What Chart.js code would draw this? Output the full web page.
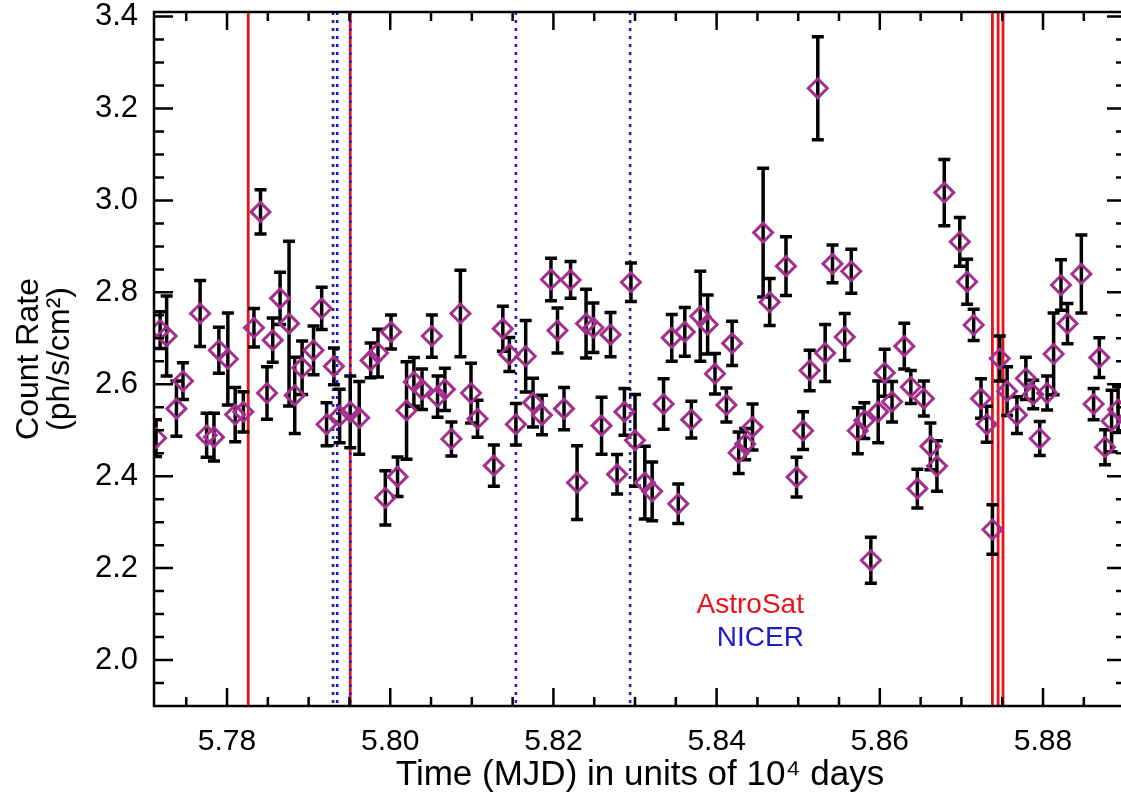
<!DOCTYPE html>
<html>
<head>
<meta charset="utf-8">
<script src="https://cdn.jsdelivr.net/npm/chart.js@4"></script>
<style>
  html, body { margin: 0; background: #fff; overflow: hidden; }
  canvas { display: block; }
</style>
</head>
<body>
<canvas id="myChart" width="1126" height="798"></canvas>
<script>
// time in units of 10^4 days (MJD)
const mjd = [
  5.7713, 5.7718, 5.7726, 5.7738, 5.7746, 5.7767, 5.7775, 5.7784, 5.7790, 5.7801,
  5.7810, 5.7820, 5.7833, 5.7841, 5.7849, 5.7856, 5.7865, 5.7876, 5.7883, 5.7892,
  5.7906, 5.7916, 5.7922, 5.7931, 5.7938, 5.7951, 5.7962, 5.7976, 5.7985, 5.7994,
  5.8001, 5.8009, 5.8020, 5.8029, 5.8039, 5.8051, 5.8058, 5.8067, 5.8075, 5.8086,
  5.8099, 5.8107, 5.8127, 5.8138, 5.8146, 5.8154, 5.8166, 5.8175, 5.8186, 5.8197,
  5.8205, 5.8213, 5.8221, 5.8229, 5.8240, 5.8249, 5.8259, 5.8270, 5.8278, 5.8287,
  5.8295, 5.8300, 5.8312, 5.8321, 5.8335, 5.8345, 5.8353, 5.8361, 5.8369, 5.8380,
  5.8389, 5.8398, 5.8412, 5.8419, 5.8427, 5.8435, 5.8444, 5.8457, 5.8465, 5.8485,
  5.8498, 5.8506, 5.8514, 5.8524, 5.8533, 5.8542, 5.8557, 5.8565, 5.8573, 5.8581,
  5.8589, 5.8598, 5.8606, 5.8615, 5.8630, 5.8638, 5.8646, 5.8654, 5.8662, 5.8670,
  5.8679, 5.8698, 5.8707, 5.8715, 5.8724, 5.8731, 5.8738, 5.8747, 5.8756, 5.8768,
  5.8779, 5.8788, 5.8796, 5.8805, 5.8813, 5.8822, 5.8830, 5.8847, 5.8862, 5.8869,
  5.8876, 5.8884, 5.8892
];
// count rate (ph/s/cm^2)
const rate = [
  2.483, 2.718, 2.705, 2.547, 2.607, 2.754, 2.489, 2.485, 2.674, 2.655,
  2.534, 2.540, 2.723, 2.975, 2.581, 2.696, 2.787, 2.732, 2.576, 2.636,
  2.674, 2.765, 2.513, 2.639, 2.531, 2.540, 2.527, 2.652, 2.668, 2.353,
  2.714, 2.399, 2.543, 2.605, 2.589, 2.705, 2.573, 2.589, 2.481, 2.754,
  2.581, 2.525, 2.423, 2.721, 2.665, 2.513, 2.661, 2.560, 2.533, 2.828,
  2.717, 2.547, 2.827, 2.386, 2.732, 2.723, 2.510, 2.708, 2.404, 2.540,
  2.822, 2.478, 2.386, 2.367, 2.557, 2.701, 2.340, 2.714, 2.523, 2.748,
  2.730, 2.623, 2.555, 2.689, 2.451, 2.470, 2.507, 2.930, 2.779, 2.857,
  2.398, 2.499, 2.630, 3.244, 2.668, 2.862, 2.703, 2.846, 2.499, 2.521,
  2.217, 2.540, 2.625, 2.562, 2.683, 2.594, 2.373, 2.569, 2.465, 2.422,
  3.017, 2.910, 2.823, 2.729, 2.569, 2.513, 2.284, 2.656, 2.585, 2.533,
  2.613, 2.578, 2.482, 2.581, 2.666, 2.816, 2.732, 2.840, 2.557, 2.658,
  2.463, 2.520, 2.545
];
// 1-sigma errors
const rateErr = [
  0.040, 0.040, 0.087, 0.060, 0.040, 0.072, 0.048, 0.052, 0.050, 0.100,
  0.059, 0.044, 0.042, 0.048, 0.057, 0.048, 0.057, 0.179, 0.083, 0.058,
  0.053, 0.046, 0.047, 0.040, 0.058, 0.078, 0.079, 0.038, 0.052, 0.059,
  0.037, 0.043, 0.106, 0.053, 0.044, 0.046, 0.045, 0.046, 0.037, 0.094,
  0.065, 0.040, 0.045, 0.049, 0.037, 0.045, 0.078, 0.053, 0.043, 0.046,
  0.049, 0.046, 0.040, 0.080, 0.075, 0.054, 0.062, 0.048, 0.043, 0.051,
  0.042, 0.100, 0.079, 0.064, 0.055, 0.051, 0.043, 0.053, 0.040, 0.098,
  0.064, 0.044, 0.037, 0.048, 0.045, 0.034, 0.050, 0.140, 0.051, 0.064,
  0.043, 0.041, 0.044, 0.112, 0.062, 0.041, 0.051, 0.048, 0.050, 0.039,
  0.050, 0.067, 0.051, 0.044, 0.050, 0.036, 0.042, 0.038, 0.051, 0.055,
  0.072, 0.053, 0.049, 0.034, 0.043, 0.039, 0.054, 0.049, 0.053, 0.040,
  0.046, 0.031, 0.037, 0.037, 0.089, 0.055, 0.044, 0.085, 0.034, 0.043,
  0.038, 0.067, 0.050
];
// observation epochs
const astrosatTimes = [5.7826, 5.7951, 5.8738, 5.8745, 5.8751];
const nicerTimes = [5.7930, 5.7935, 5.7951, 5.8154, 5.8294];

const xTicks = [5.78, 5.80, 5.82, 5.84, 5.86, 5.88];
const yTicks = [2.0, 2.2, 2.4, 2.6, 2.8, 3.0, 3.2, 3.4];
const xMin = 5.77105, xMax = 5.89017;
const yMin = 1.9, yMax = 3.41;

const sans = "'Liberation Sans', Arial, Helvetica, sans-serif";

const decor = {
  id: 'decor',
  beforeDatasetsDraw(chart) {
    const {ctx, chartArea: a, scales: {x, y}} = chart;
    ctx.save();
    ctx.beginPath();
    ctx.rect(a.left, a.top, a.right - a.left, a.bottom - a.top);
    ctx.clip();
    const vline = (t) => {
      const px = x.getPixelForValue(t);
      ctx.beginPath();
      ctx.moveTo(px, a.top);
      ctx.lineTo(px, a.bottom);
      ctx.stroke();
    };
    ctx.strokeStyle = '#e8141b';
    ctx.lineWidth = 2.8;
    astrosatTimes.forEach(vline);
    ctx.strokeStyle = '#1d1dc8';
    ctx.lineWidth = 2.5;
    ctx.setLineDash([3, 5]);
    nicerTimes.forEach(vline);
    ctx.setLineDash([]);

    // error bars
    ctx.strokeStyle = '#000';
    ctx.lineWidth = 3.5;
    mjd.forEach((t, i) => {
      const px = x.getPixelForValue(t);
      const lo = y.getPixelForValue(rate[i] - rateErr[i]);
      const hi = y.getPixelForValue(rate[i] + rateErr[i]);
      ctx.beginPath();
      ctx.moveTo(px, lo); ctx.lineTo(px, hi);
      ctx.moveTo(px - 6, lo); ctx.lineTo(px + 6, lo);
      ctx.moveTo(px - 6, hi); ctx.lineTo(px + 6, hi);
      ctx.stroke();
    });
    ctx.restore();
  },
  afterDraw(chart) {
    const {ctx, chartArea: a, scales: {x, y}} = chart;
    ctx.save();
    ctx.strokeStyle = '#000';
    ctx.lineWidth = 2.5;
    ctx.strokeRect(a.left, a.top, a.right - a.left, a.bottom - a.top);

    // inward ticks on all four sides
    ctx.beginPath();
    for (let k = 0; k <= 24; k++) {
      const v = 5.775 + k * 0.005;
      const major = xTicks.some(t => Math.abs(t - v) < 1e-6);
      const len = major ? 18 : 9;
      const px = x.getPixelForValue(v);
      ctx.moveTo(px, a.bottom); ctx.lineTo(px, a.bottom - len);
      ctx.moveTo(px, a.top); ctx.lineTo(px, a.top + len);
    }
    for (let k = 0; k <= 30; k++) {
      const v = 1.95 + k * 0.05;
      if (v > yMax) break;
      const major = yTicks.some(t => Math.abs(t - v) < 1e-6);
      const len = major ? 19 : 10;
      const py = y.getPixelForValue(v);
      ctx.moveTo(a.left, py); ctx.lineTo(a.left + len, py);
      ctx.moveTo(a.right, py); ctx.lineTo(a.right - len, py);
    }
    ctx.stroke();

    // instrument labels
    ctx.font = '28px ' + sans;
    ctx.textAlign = 'right';
    ctx.textBaseline = 'middle';
    ctx.fillStyle = '#e8141b';
    ctx.fillText('AstroSat', x.getPixelForValue(5.8507), y.getPixelForValue(2.120));
    ctx.fillStyle = '#1d1dc8';
    ctx.fillText('NICER', x.getPixelForValue(5.8507), y.getPixelForValue(2.048));
    ctx.restore();
  }
};

const ctx = document.getElementById('myChart').getContext('2d');
const myChart = new Chart(ctx, {
  type: 'scatter',
  data: {
    datasets: [{
      data: mjd.map((t, i) => ({x: t, y: rate[i]})),
      pointStyle: 'rectRot',
      radius: 9.5,
      borderColor: '#a3308c',
      backgroundColor: 'rgba(0,0,0,0)',
      borderWidth: 3,
      clip: 0
    }]
  },
  options: {
    responsive: false,
    animation: false,
    events: [],
    layout: { autoPadding: false, padding: { top: 12, right: 0, left: 0, bottom: 0 } },
    plugins: {
      legend: { display: false },
      tooltip: { enabled: false }
    },
    scales: {
      x: {
        type: 'linear',
        min: xMin,
        max: xMax,
        afterBuildTicks: s => { s.ticks = xTicks.map(v => ({value: v})); },
        afterFit: s => { s.height = 92; s.paddingLeft = 0; s.paddingRight = 0; },
        grid: { display: false, drawTicks: false },
        border: { display: false },
        ticks: {
          color: '#000',
          font: { family: sans, size: 30 },
          padding: 18,
          maxRotation: 0,
          autoSkip: false,
          callback: v => v.toFixed(2)
        },
        title: {
          display: true,
          text: 'Time (MJD) in units of 10\u2074 days',
          color: '#000',
          font: { family: sans, size: 35 },
          padding: { top: 0, bottom: 2 }
        }
      },
      y: {
        type: 'linear',
        min: yMin,
        max: yMax,
        afterBuildTicks: s => { s.ticks = yTicks.map(v => ({value: v})); },
        afterFit: s => { s.width = 154; s.paddingTop = 0; s.paddingBottom = 0; },
        grid: { display: false, drawTicks: false },
        border: { display: false },
        ticks: {
          color: '#000',
          font: { family: sans, size: 31 },
          padding: 16,
          autoSkip: false,
          callback: v => v.toFixed(1)
        },
        title: {
          display: true,
          text: ['Count Rate', '(ph/s/cm\u00b2)'],
          color: '#000',
          font: { family: sans, size: 32, lineHeight: 0.97 },
          padding: { top: 14, bottom: 0 }
        }
      }
    }
  },
  plugins: [decor]
});
</script>
</body>
</html>
